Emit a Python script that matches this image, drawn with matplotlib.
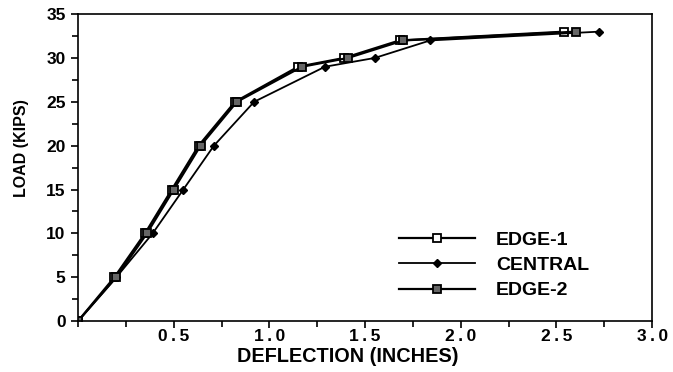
import matplotlib.pyplot as plt
from matplotlib.ticker import MultipleLocator

# load (kips) against deflection (inches)
load = [0, 5, 10, 15, 20, 25, 29, 30, 32, 33]
edge1 = [0, 0.19, 0.35, 0.49, 0.63, 0.82, 1.15, 1.39, 1.68, 2.54]
central = [0, 0.20, 0.39, 0.55, 0.71, 0.92, 1.29, 1.55, 1.84, 2.72]
edge2 = [0, 0.20, 0.36, 0.50, 0.64, 0.83, 1.17, 1.41, 1.70, 2.60]

xticks = [0.5, 1.0, 1.5, 2.0, 2.5, 3.0]
yticks = [0, 5, 10, 15, 20, 25, 30, 35]

plt.rcParams['font.family'] = ['Liberation Sans', 'DejaVu Sans']
plt.rcParams['font.weight'] = 'bold'

fig = plt.figure(figsize=(6.73, 3.72), dpi=100)
ax = fig.add_axes([0.116, 0.137, 0.853, 0.825])

ax.plot(edge1, load, color='black', lw=1.6, marker='s', ms=5.5,
        mfc='white', mec='black', mew=1.3, label='EDGE-1')
ax.plot(central, load, color='black', lw=1.3, marker='D', ms=4,
        mfc='black', mec='black', label='CENTRAL')
ax.plot(edge2, load, color='black', lw=1.6, marker='s', ms=5.5,
        mfc='#666666', mec='black', mew=1.3, label='EDGE-2')

ax.set_xlim(0, 3.0)
ax.set_ylim(0, 35)
ax.set_xticks(xticks)
# spaced-out digits as in the original print
ax.set_xticklabels(['\u2009'.join('%.1f' % v) for v in xticks])
ax.set_yticks(yticks)
ax.xaxis.set_minor_locator(MultipleLocator(0.25))
ax.yaxis.set_minor_locator(MultipleLocator(2.5))
ax.tick_params(which='both', direction='out', labelsize=12.5, width=1.2)
ax.tick_params(which='major', length=5)
ax.tick_params(which='minor', length=4)
ax.tick_params(axis='x', pad=1)
ax.tick_params(axis='y', pad=4)
for s in ax.spines.values():
    s.set_linewidth(1.2)

ax.set_xlabel('DEFLECTION (INCHES)', fontsize=14.3, fontweight='bold', va='top')
ax.xaxis.set_label_coords(0.469, -0.086)
ax.set_ylabel('LOAD (KIPS)', fontsize=11.5, fontweight='bold', va='center')
ax.yaxis.set_label_coords(-0.098, 0.563)

ax.legend(loc='center left', bbox_to_anchor=(0.545, 0.182), frameon=False,
          fontsize=14, handlelength=3.9, handletextpad=1.1, labelspacing=0.4,
          borderaxespad=0)

fig.savefig('out.png', dpi=100)
